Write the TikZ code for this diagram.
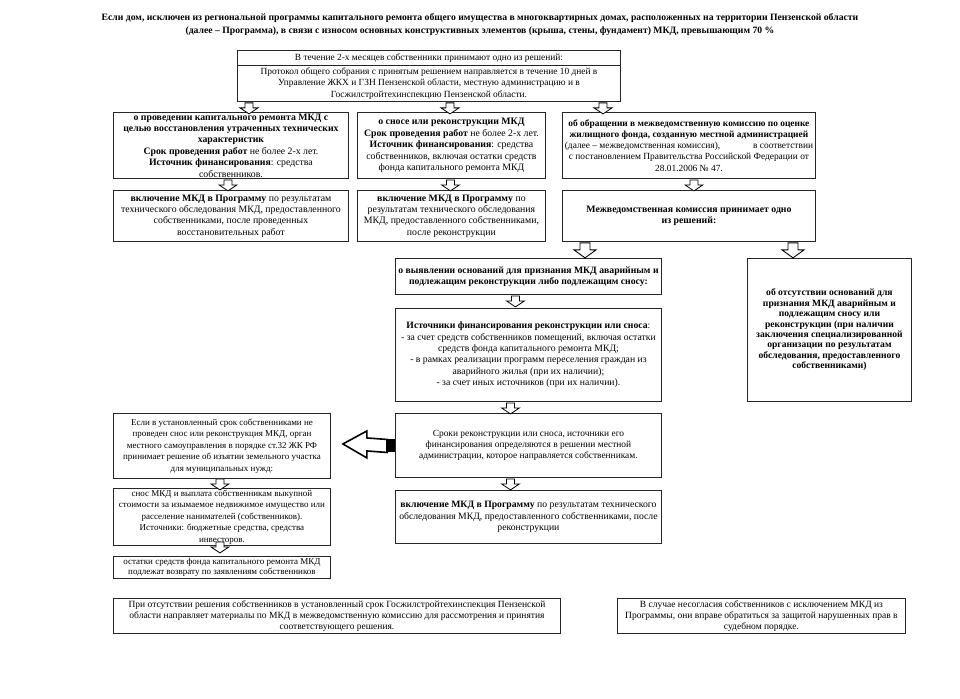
\documentclass[tikz,border=0pt]{standalone}
\usepackage{fontspec}
\setmainfont{Liberation Serif}
\usetikzlibrary{calc}
% box: #1 name, #2 x1, #3 y1, #4 x2, #5 y2, #6 font size, #7 text
\newcommand\bx[7]{%
  \pgfmathsetmacro\bxw{#4-#2}\pgfmathsetmacro\bxh{#5-#3}%
  \node[box, anchor=north west, minimum width=\bxw pt, minimum height=\bxh pt] (#1) at (#2,#3) {};
  \node[boxtext, font=#6] (#1t) at (#1.center) {#7};}
\newcommand\fA{\fontsize{9.8}{11.4}\selectfont}
\newcommand\fB{\fontsize{9.4}{11.2}\selectfont}
\newcommand\fD{\fontsize{9.7}{11.4}\selectfont}
\newcommand\fC{\fontsize{9}{11.4}\selectfont}
\newcommand\fE{\fontsize{9.6}{10.4}\selectfont}
\newcommand\fH{\fontsize{9.5}{11}\selectfont}
\tikzset{
  box/.style={draw=black!85, line width=0.9pt, inner sep=0pt},
  boxtext/.style={align=center, inner sep=0pt},
  darr/.pic={\draw[line width=0.8pt, fill=white] (-4,0) -- (4,0) -- (4,5) -- (9,5) -- (0,11) -- (-9,5) -- (-4,5) -- cycle;},
  bigdarr/.pic={\draw[line width=0.9pt, fill=white] (-5,0) -- (5,0) -- (5,7) -- (11,7) -- (0,15) -- (-11,7) -- (-5,7) -- cycle;}
}
\begin{document}
\begin{tikzpicture}[x=1pt,y=-1pt]
\useasboundingbox (0,0) rectangle (960,698);
\fill[white] (0,0) rectangle (960,698);
% title
\node[font=\fontsize{9.7}{13}\selectfont\bfseries, align=center] (title) at (480,25)
  {Если дом, исключен из региональной программы капитального ремонта общего имущества в многоквартирных домах, расположенных на территории Пензенской области\\
   (далее – Программа), в связи с износом основных конструктивных элементов (крыша, стены, фундамент) МКД, превышающим 70 \%};
% top box
\bx{TOPa}{237}{50}{620}{65}{\fB}{В течение 2-х месяцев собственники принимают одно из решений:}
\bx{TOPb}{237}{65}{620}{101}{\fB}{Протокол общего собрания с принятым решением направляется в течение 10 дней в\\
  Управление ЖКХ и ГЗН Пензенской области, местную администрацию и в\\
  Госжилстройтехинспекцию Пензенской области.}
% row 1
\bx{A1}{113}{112}{348}{178}{\fA}{\textbf{о проведении капитального ремонта МКД с}\\
  \textbf{целью восстановления утраченных технических}\\ \textbf{характеристик}\\
  \textbf{Срок проведения работ} не более 2-х лет.\\
  \textbf{Источник финансирования}: средства\\ собственников.}
\bx{B1}{357}{112}{545}{178}{\fA}{\textbf{о сносе или реконструкции МКД}\\
  \textbf{Срок проведения работ} не более 2-х лет.\\
  \textbf{Источник финансирования}: средства\\
  собственников, включая остатки средств\\
  фонда капитального ремонта МКД}
\bx{C1}{562}{112}{815}{178}{\fB}{\textbf{об обращении в межведомственную комиссию по оценке}\\
  \textbf{жилищного фонда, созданную местной администрацией}\\
  (далее – межведомственная комиссия),\hspace{3.5em}в соответствии\\
  с постановлением Правительства Российской Федерации от\\
  28.01.2006 № 47.}
% row 2
\bx{A2}{113}{190}{348}{241}{\fA}{\textbf{включение МКД в Программу} по результатам\\
  технического обследования МКД, предоставленного\\
  собственниками, после проведенных\\ восстановительных работ}
\bx{B2}{357}{190}{545}{241}{\fA}{\textbf{включение МКД в Программу} по\\
  результатам технического обследования\\
  МКД, предоставленного собственниками,\\ после реконструкции}
\bx{C2}{562}{190}{815}{241}{\fA}{\textbf{Межведомственная комиссия принимает одно}\\ \textbf{из решений:}}
% commission decisions
\bx{D1}{395}{258}{661}{294}{\fD}{\textbf{о выявлении оснований для признания МКД аварийным и}\\
  \textbf{подлежащим реконструкции либо подлежащим сносу:}}
\bx{E}{747}{258}{911}{401}{\fE}{\textbf{об отсутствии оснований для}\\ \textbf{признания МКД аварийным и}\\
  \textbf{подлежащим сносу или}\\ \textbf{реконструкции (при наличии}\\
  \textbf{заключения специализированной}\\ \textbf{организации по результатам}\\
  \textbf{обследования, предоставленного}\\ \textbf{собственниками)}}
\bx{D2}{395}{308}{661}{401}{\fD}{\textbf{Источники финансирования реконструкции или сноса}:\\
  - за счет средств собственников помещений, включая остатки\\
  средств фонда капитального ремонта МКД;\\
  - в рамках реализации программ переселения граждан из\\
  аварийного жилья (при их наличии);\\
  - за счет иных источников (при их наличии).}
\bx{F1}{395}{413}{661}{477}{\fB}{Сроки реконструкции или сноса, источники его\\
  финансирования определяются в решении местной\\
  администрации, которое направляется собственникам.}
\bx{F2}{395}{490}{661}{543}{\fD}{\textbf{включение МКД в Программу} по результатам технического\\
  обследования МКД, предоставленного собственниками, после\\ реконструкции}
% left column
\bx{G1}{113}{413}{330}{478}{\fC}{Если в установленный срок собственниками не\\
  проведен снос или реконструкция МКД, орган\\
  местного самоуправления в порядке ст.32 ЖК РФ\\
  принимает решение об изъятии земельного участка\\
  для муниципальных нужд:}
\bx{G2}{113}{488}{330}{545}{\fC}{снос МКД и выплата собственникам выкупной\\
  стоимости за изымаемое недвижимое имущество или\\
  расселение нанимателей (собственников).\\
  Источники: бюджетные средства, средства\\ инвесторов.}
\bx{G3}{113}{556}{330}{578}{\fontsize{9}{10}\selectfont}{остатки средств фонда капитального ремонта МКД\\
  подлежат возврату по заявлениям собственников}
% bottom notes
\bx{H}{113}{598}{560}{633}{\fH}{При отсутствии решения собственников в установленный срок Госжилстройтехинспекция Пензенской\\
  области направляет материалы по МКД в межведомственную комиссию для рассмотрения и принятия\\
  соответствующего решения.}
\bx{I}{617}{598}{905}{633}{\fH}{В случае несогласия собственников с исключением МКД из\\
  Программы, они вправе обратиться за защитой нарушенных прав в\\ судебном порядке.}
% block arrows
\pic at ($(TOPb.south west)+(12,1)$) {darr};
\pic at ($(TOPb.south west)+(213,1)$) {darr};
\pic at ($(TOPb.south west)+(366,1)$) {darr};
\pic at ($(A1.south)+(-3,1)$) {darr};
\pic at ($(B1.south)+(-1,1)$) {darr};
\pic at ($(C1.south)+(5,1)$) {darr};
\pic at ($(C2.south west)+(23,1)$) {bigdarr};
\pic at ($(C2.south west)+(231,1)$) {bigdarr};
\pic at ($(D1.south)+(-13,1)$) {darr};
\pic at ($(D2.south)+(-18,1)$) {darr};
\pic at ($(F1.south)+(-18,1)$) {darr};
\pic at ($(G1.south)+(-2,0)$) {darr};
\pic at ($(G2.south)+(-2,-4)$) {darr};
% big left arrow from F1 to G1
\coordinate (tip) at ($(G1.east)+(12,-2)$);
\draw[line width=1.6pt, fill=white] (tip) -- ++(24,-13) -- ++(0,7) -- ($(F1.west)+(-8,-6)$) -- ++(0,13) -- ($(tip)+(24,7)$) -- ++(0,7) -- cycle;
\fill[black] ($(F1.west)+(-8,-6)$) rectangle ($(F1.west)+(0,7)$);
\end{tikzpicture}
\end{document}
